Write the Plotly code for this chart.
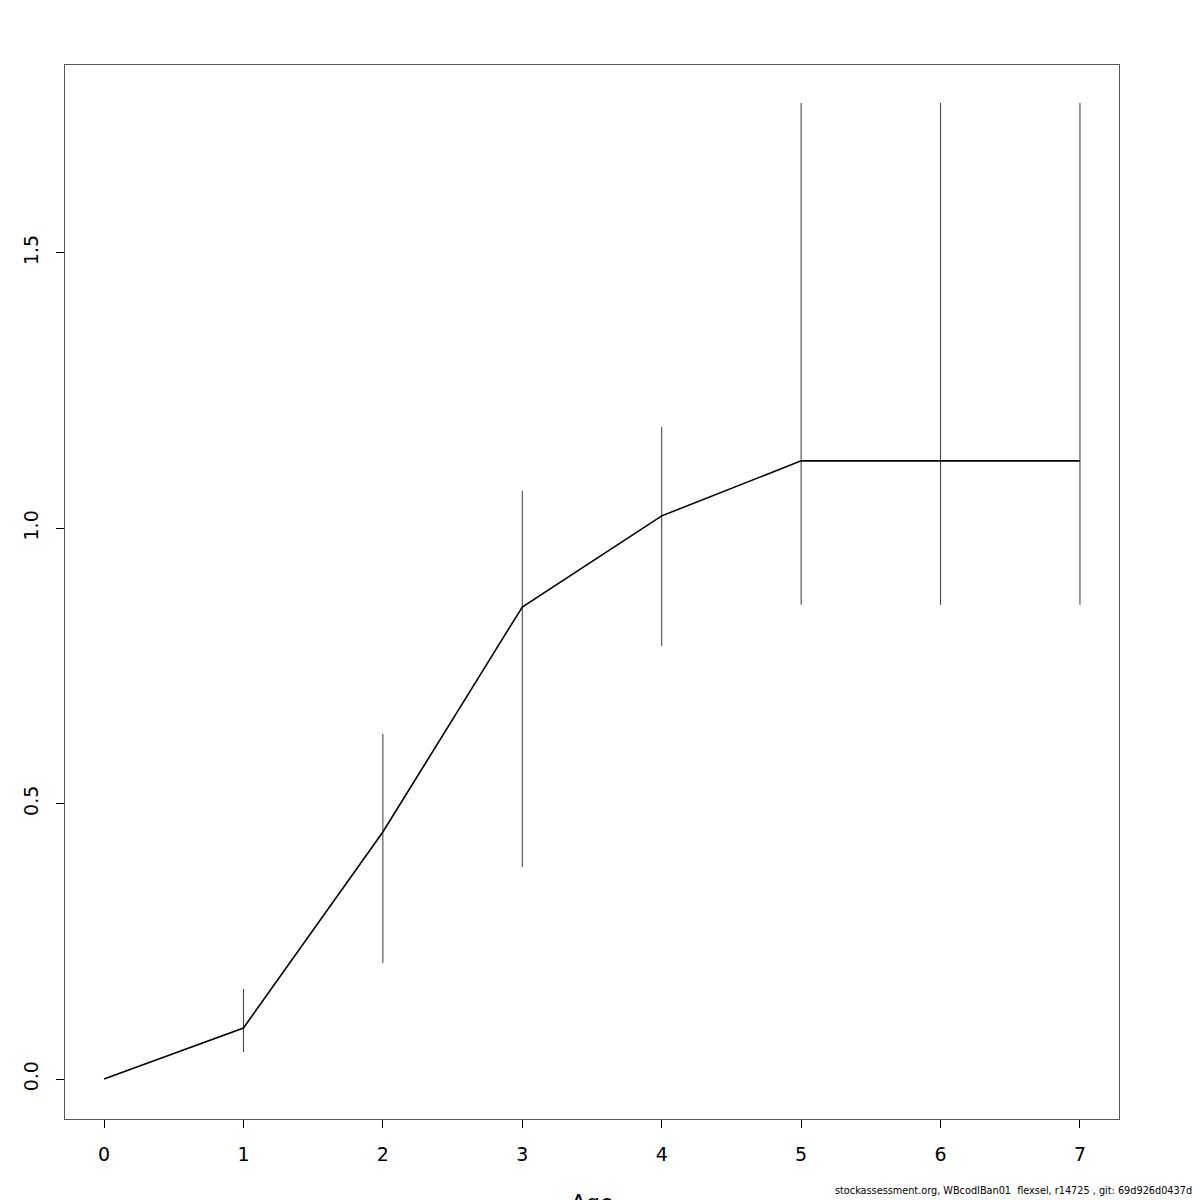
import plotly.graph_objects as go

ages = [0, 1, 2, 3, 4, 5, 6, 7]
sel = [0.0, 0.0926, 0.4485, 0.857, 1.0224, 1.1223, 1.1223, 1.1223]
upper = [None, 0.1634, 0.6265, 1.0678, 1.184, 1.772, 1.772, 1.772]
lower = [None, 0.049, 0.2107, 0.385, 0.786, 0.861, 0.861, 0.861]
x_ticks = [0, 1, 2, 3, 4, 5, 6, 7]
y_ticks = [0.0, 0.5, 1.0, 1.5]
footer = "stockassessment.org, WBcodIBan01  flexsel, r14725 , git: 69d926d0437d"

err_plus = [0 if u is None else u - s for u, s in zip(upper, sel)]
err_minus = [0 if l is None else s - l for l, s in zip(lower, sel)]

fig = go.Figure()
fig.add_trace(go.Scatter(
    x=ages, y=sel, mode="lines",
    line=dict(color="black", width=1.6),
    error_y=dict(type="data", symmetric=False, array=err_plus, arrayminus=err_minus,
                 width=0, thickness=0.9, color="#222222"),
    showlegend=False, hoverinfo="skip",
))

OFF = 8  # page offset of the figure
W, H = 1200, 1200
L, R, T, B = 65 - OFF, 81 + OFF, 65 - OFF, 81 + OFF
PW, PH = W - L - R, H - T - B
fig.update_layout(
    width=W, height=H,
    margin=dict(l=L, r=R, t=T, b=B),
    paper_bgcolor="white", plot_bgcolor="white",
    font=dict(family="DejaVu Sans", size=19, color="black"),
    xaxis=dict(range=[-0.28, 7.28], tickvals=x_ticks, ticktext=[str(v) for v in x_ticks],
               showgrid=False, zeroline=False, ticks="outside", ticklen=8, tickwidth=1,
               tickcolor="black", showline=True, linecolor="#555555", linewidth=1, mirror=True,
               ticklabelstandoff=10),
    yaxis=dict(range=[-0.0726, 1.841], tickvals=y_ticks, tickformat=".1f", tickangle=-90,
               showgrid=False, zeroline=False, ticks="outside", ticklen=8, tickwidth=1,
               tickcolor="black", showline=True, linecolor="#555555", linewidth=1, mirror=True,
               ticklabelstandoff=10),
    annotations=[
        dict(text="Age", xref="paper", yref="paper", x=(592 - OFF - L) / PW,
             y=-(1188 - OFF - (H - B)) / PH,
             xanchor="center", yanchor="top", showarrow=False, font=dict(size=22)),
        dict(text=footer, xref="paper", yref="paper",
             x=(1194 - OFF - L) / PW, y=-(1199 - OFF - (H - B)) / PH,
             xanchor="right", yanchor="bottom", showarrow=False,
             font=dict(family="DejaVu Sans Condensed, Liberation Sans Narrow", size=10.8)),
    ],
)

fig.write_html("out.html")
